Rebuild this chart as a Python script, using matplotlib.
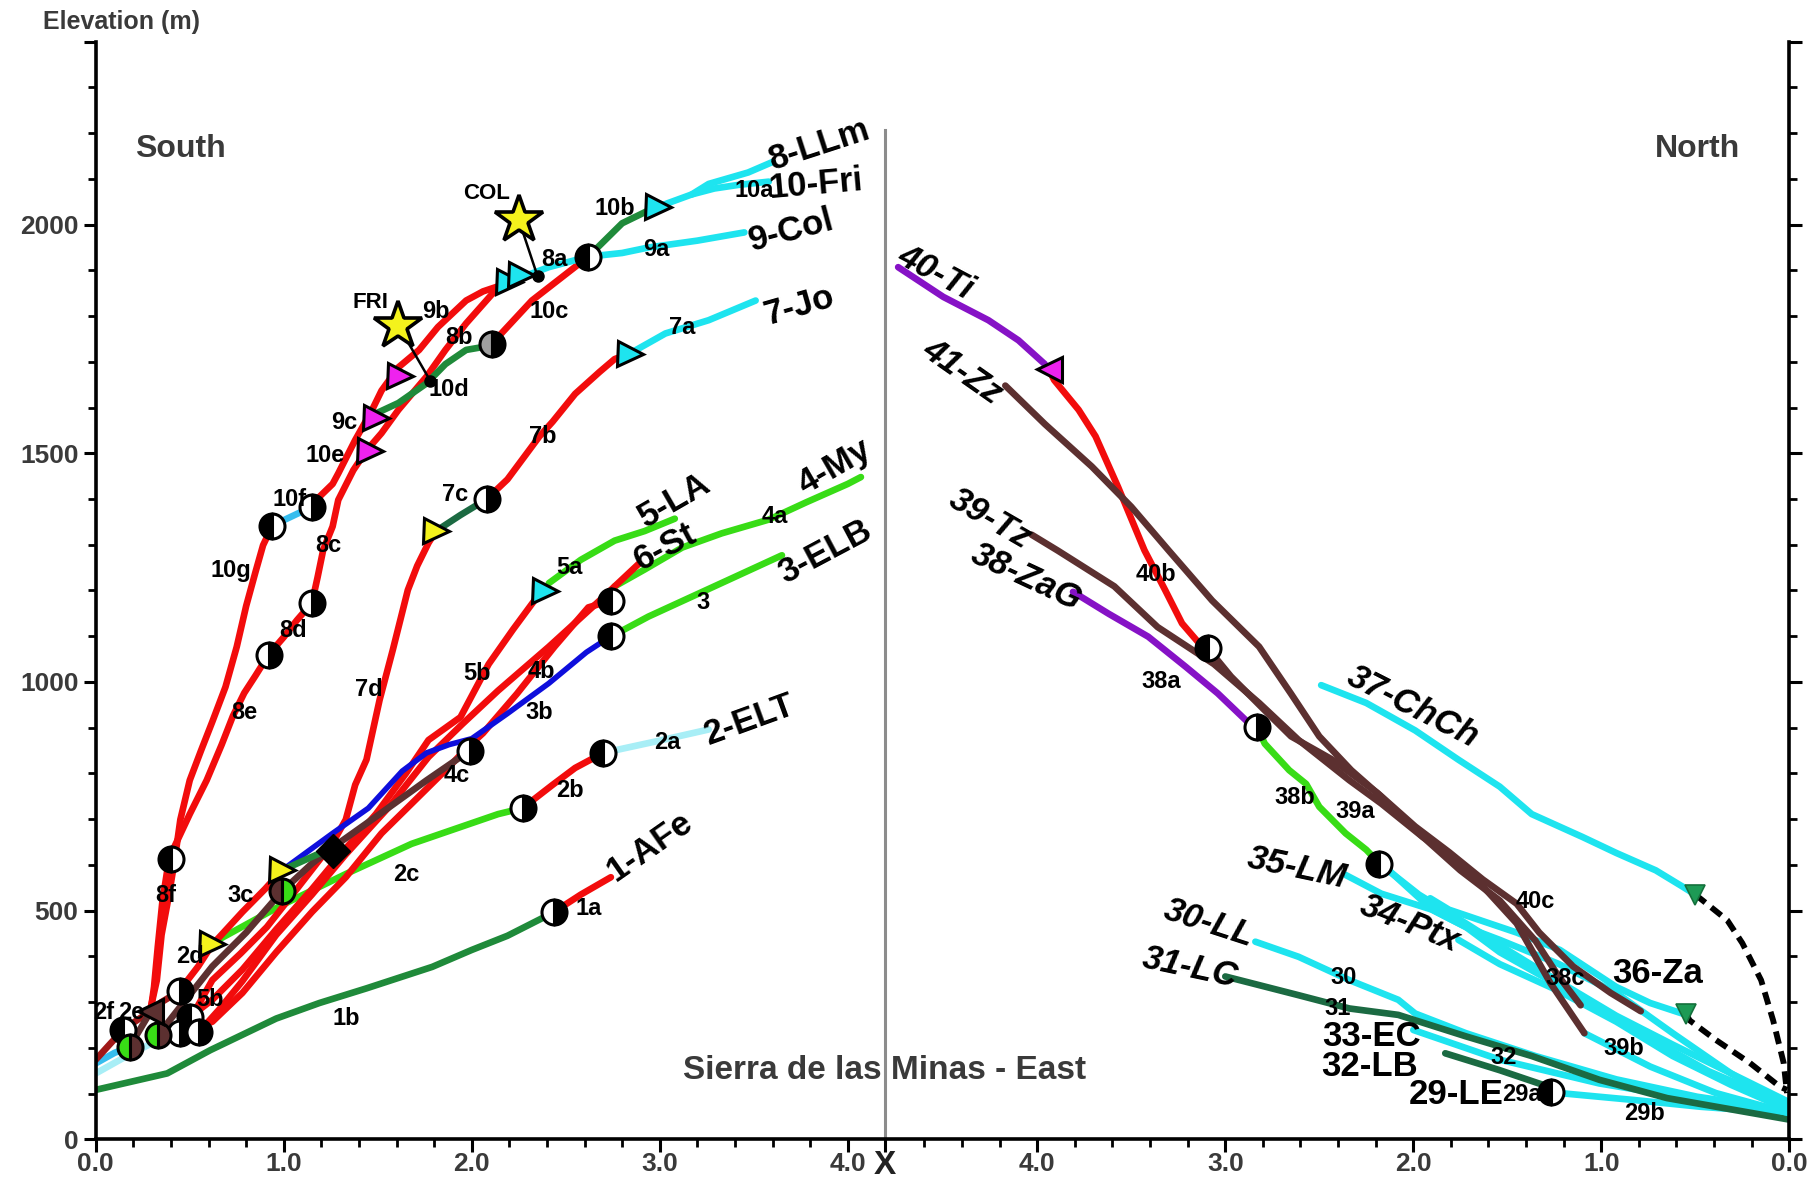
import matplotlib
matplotlib.use("Agg")
import matplotlib.pyplot as plt
from matplotlib.ticker import FixedLocator

# ---------------- composite distance axis ----------------
X_DIV = 4.196      # position of the "X" divide on the shared axis (km from south origin)
NORTH0 = 9.008     # position of the north origin on the shared axis

# ---------------- SOUTH profiles: (km from south origin, elevation m) ----------------
S_1b = [(0, 108), (0.38, 144), (0.61, 195), (0.96, 264), (1.19, 298), (1.44, 330), (1.79, 377), (2.0, 414), (2.19, 445), (2.43, 495)]
S_1a = [(2.43, 495), (2.58, 535), (2.74, 573)]
S_2a = [(2.70, 845), (2.98, 870), (3.26, 896)]
S_2b = [(2.27, 724), (2.43, 775), (2.55, 812), (2.70, 845)]
S_2c = [(0.62, 429), (0.98, 510), (1.33, 580), (1.68, 646), (2.14, 711), (2.27, 724)]
S_2d = [(0.99, 588), (0.90, 547), (0.78, 497), (0.655, 441), (0.62, 426), (0.545, 378), (0.47, 338), (0.45, 325)]
S_2e = [(0.45, 325), (0.35, 300), (0.29, 280)]
S_2f = [(0.29, 280), (0.147, 240), (0.073, 207), (0, 174)]
S_3 = [(2.74, 1099), (2.94, 1143), (3.29, 1209), (3.65, 1277)]
S_3b = [(0.99, 588), (1.26, 669), (1.45, 724), (1.63, 805), (1.76, 845), (1.88, 863), (2.00, 876), (2.19, 931), (2.41, 997), (2.61, 1065), (2.74, 1100)]
S_3c = [(0.99, 588), (1.26, 638)]
S_4a = [(2.74, 1178), (2.76, 1209), (2.92, 1246), (3.12, 1294), (3.33, 1325), (3.58, 1355), (3.78, 1393), (4.00, 1433), (4.07, 1448)]
S_4b = [(2.74, 1178), (2.62, 1163), (2.44, 1077), (2.24, 974), (2.06, 888), (1.98, 858), (1.88, 815), (1.70, 742), (1.52, 669), (1.33, 573), (1.15, 497), (0.96, 409), (0.78, 320), (0.62, 257), (0.45, 232)]
S_4c = [(1.99, 850), (1.76, 785), (1.51, 711), (1.26, 638), (1.15, 603), (0.99, 542), (0.80, 452), (0.62, 378), (0.45, 290), (0.33, 227)]
S_4d = [(0.29, 278), (0.18, 202)]
S_5a = [(2.41, 1216), (2.58, 1267), (2.76, 1309), (2.92, 1330), (3.08, 1357)]
S_5b = [(2.36, 1193), (2.22, 1115), (2.09, 1039), (1.94, 923), (1.77, 873), (1.65, 800), (1.49, 711), (1.33, 636), (1.15, 547), (0.96, 459), (0.78, 371), (0.62, 305), (0.50, 267)]
S_6 = [(2.89, 1259), (2.68, 1178), (2.41, 1077), (2.14, 981), (1.95, 908), (1.77, 836), (1.56, 727), (1.33, 623), (1.15, 535), (0.96, 447), (0.78, 346), (0.655, 283), (0.55, 235)]
S_7a = [(2.84, 1718), (3.03, 1762), (3.26, 1791), (3.51, 1834)]
S_7b = [(2.08, 1400), (2.19, 1443), (2.36, 1537), (2.43, 1569), (2.55, 1630), (2.68, 1678), (2.76, 1706), (2.84, 1718)]
S_7c = [(1.81, 1330), (1.94, 1365), (2.08, 1400)]
S_7d = [(1.81, 1330), (1.77, 1304), (1.71, 1254), (1.66, 1201), (1.58, 1070), (1.51, 961), (1.44, 830), (1.38, 775), (1.33, 699), (1.26, 648), (1.16, 595), (1.05, 537), (0.91, 464), (0.77, 406), (0.62, 348), (0.52, 275), (0.45, 232)]
S_8a = [(2.20, 1875), (2.41, 1907), (2.62, 1930)]
S_8top = [(2.99, 2039), (3.17, 2066), (3.26, 2089), (3.47, 2114), (3.60, 2137)]
S_8b = [(2.19, 1870), (2.11, 1849), (1.97, 1784), (1.86, 1726), (1.76, 1668), (1.61, 1595), (1.52, 1544), (1.44, 1506), (1.37, 1463), (1.29, 1398), (1.26, 1340), (1.21, 1289), (1.18, 1229), (1.15, 1173)]
S_8d = [(1.15, 1173), (1.07, 1135), (1.00, 1098), (0.92, 1060)]
S_8e = [(0.92, 1060), (0.85, 1014), (0.79, 976), (0.73, 926), (0.67, 863), (0.59, 785), (0.50, 711), (0.42, 641), (0.39, 613)]
S_8f = [(0.39, 613), (0.355, 522), (0.33, 421), (0.31, 333), (0.29, 275)]
S_9a = [(2.62, 1930), (2.80, 1938), (2.94, 1950), (3.20, 1965), (3.45, 1983)]
S_9b = [(2.19, 1872), (2.06, 1854), (1.97, 1834), (1.82, 1776), (1.72, 1726), (1.61, 1688), (1.52, 1637), (1.47, 1595), (1.38, 1529), (1.29, 1456), (1.26, 1433), (1.19, 1405), (1.15, 1383)]
S_10a = [(3.17, 2066), (3.29, 2079), (3.42, 2087), (3.58, 2094)]
S_10b = [(2.62, 1930), (2.80, 2003), (2.94, 2031), (2.99, 2039)]
S_10c = [(2.62, 1930), (2.32, 1834), (2.11, 1741)]
S_10d = [(2.11, 1736), (1.97, 1726), (1.86, 1695), (1.76, 1653), (1.61, 1610), (1.49, 1587)]
S_10f = [(1.15, 1383), (0.94, 1342)]
S_10g = [(0.94, 1342), (0.89, 1299), (0.85, 1241), (0.80, 1166), (0.75, 1077), (0.69, 989), (0.62, 913), (0.56, 850), (0.50, 785), (0.45, 699), (0.42, 611), (0.39, 535), (0.35, 447), (0.325, 348), (0.29, 283)]
S_base1 = [(0, 144), (0.165, 182), (0.37, 225)]
S_base2 = [(0, 166), (0.10, 189), (0.18, 202)]

# ---------------- NORTH profiles: (km from north origin, elevation m) ----------------
N_40Ti = [(4.74, 1907), (4.50, 1842), (4.26, 1791), (4.10, 1747), (3.96, 1695)]
N_40b = [(3.94, 1685), (3.91, 1660), (3.78, 1595), (3.69, 1537), (3.57, 1426), (3.43, 1288), (3.32, 1201), (3.23, 1128), (3.14, 1085), (3.09, 1075)]
N_40c = [(3.07, 1062), (2.97, 1012), (2.81, 946), (2.65, 881), (2.43, 830), (2.19, 757), (1.99, 684), (1.81, 628), (1.63, 568), (1.45, 515), (1.33, 452), (1.15, 378), (0.95, 320), (0.79, 280)]
N_41Zz = [(4.17, 1648), (3.96, 1564), (3.71, 1471), (3.50, 1383), (3.30, 1287), (3.07, 1178), (2.82, 1077), (2.65, 974), (2.50, 881), (2.33, 807), (2.17, 749), (1.97, 669), (1.75, 588), (1.54, 522), (1.35, 434), (1.23, 358), (1.11, 293)]
N_39Tz = [(4.03, 1322), (3.89, 1287), (3.59, 1209), (3.36, 1120), (3.06, 1039), (2.82, 954), (2.61, 873), (2.34, 785), (2.17, 734), (1.95, 661), (1.79, 618), (1.63, 553), (1.45, 472), (1.27, 341), (1.09, 232)]
N_39b = [(1.09, 232), (0.74, 159), (0.39, 101), (0, 57)]
N_38a = [(3.81, 1197), (3.62, 1149), (3.41, 1099), (3.21, 1033), (3.04, 975), (2.89, 916), (2.83, 902)]
N_38b = [(2.83, 901), (2.79, 865), (2.66, 807), (2.57, 777), (2.50, 727), (2.36, 669), (2.25, 633), (2.18, 603)]
N_38c = [(2.18, 603), (1.97, 535), (1.72, 472), (1.48, 409), (1.23, 346), (0.92, 270), (0.62, 207), (0.31, 144), (0, 81)]
N_34 = [(2.13, 588), (1.90, 502), (1.72, 464), (1.54, 409), (1.29, 351), (1.05, 295), (0.74, 220), (0.43, 149), (0, 73)]
N_34b = [(1.76, 436), (1.54, 383), (1.23, 325), (0.92, 257), (0.62, 182), (0.31, 119), (0, 63)]
N_35LM = [(2.36, 578), (2.17, 537), (1.90, 502), (1.72, 464), (1.54, 436), (1.23, 384), (0.92, 320), (0.62, 232), (0.31, 144), (0, 68)]
N_37 = [(2.49, 993), (2.25, 954), (1.99, 894), (1.76, 830), (1.54, 771), (1.37, 711), (1.10, 661), (0.92, 626), (0.71, 588), (0.57, 553), (0.50, 535)]
N_37dash = [(0.50, 535), (0.46, 522), (0.33, 479), (0.25, 429), (0.15, 348), (0.086, 260), (0.03, 167), (0.012, 101)]
N_36 = [(1.91, 527), (1.81, 502), (1.45, 452), (1.22, 414), (0.92, 333), (0.74, 298), (0.57, 275), (0.55, 275)]
N_36dash = [(0.55, 275), (0.53, 260), (0.39, 217), (0.21, 167), (0.05, 115), (0.012, 108)]
N_30LL = [(2.84, 432), (2.61, 399), (2.34, 348), (2.08, 305), (1.99, 275), (1.72, 232), (1.35, 182), (0.92, 131), (0.49, 93), (0, 63)]
N_31LC = [(3.00, 356), (2.61, 315), (2.34, 286), (2.08, 272), (1.72, 225), (1.37, 182), (1.01, 130), (0.65, 90), (0, 43)]
N_33EC = [(2.00, 239), (1.54, 174), (1.01, 122), (0.48, 86), (0, 64)]
N_32LB = [(1.83, 188), (1.54, 151), (1.31, 119), (1.27, 104)]
N_29b = [(1.27, 103), (1.22, 101), (0.83, 86), (0.47, 71), (0, 57)]

# ---------------- markers ----------------
S_HALF = [(2.44, 497), (2.27, 724), (2.70, 845), (2.74, 1100), (2.74, 1178), (1.99, 850), (2.08, 1400), (2.62, 1930),
          (1.15, 1173), (0.92, 1060), (0.40, 613), (0.94, 1342), (1.15, 1383), (0.45, 325), (0.147, 240), (0.50, 267),
          (0.45, 232), (0.55, 235)]
S_HALF_SIDE = ['R', 'R', 'L', 'L', 'L', 'R', 'R', 'L', 'R', 'R', 'L', 'L', 'R', 'R', 'L', 'L', 'R', 'R']
N_HALF = [(3.09, 1075), (2.83, 901), (2.18, 603), (1.27, 104)]
N_HALF_SIDE = ['L', 'R', 'L', 'L']
S_GRAYHALF = [(2.11, 1738)]
S_GREENBROWN = [(0.18, 202), (0.33, 227)]
S_BROWNGREEN = [(0.99, 542)]
S_DIAMOND = [(1.26, 631)]
S_TRI_CYAN = [(2.20, 1875), (2.26, 1890), (2.99, 2039), (2.84, 1718), (2.39, 1198)]
S_TRI_YELLOW = [(1.81, 1330), (0.99, 588), (0.62, 426)]
S_TRI_MAGENTA = [(1.62, 1668), (1.49, 1577), (1.46, 1506)]
S_TRI_BROWN = [(0.29, 280)]
N_TRI_MAGENTA = [(3.94, 1685)]
N_TRI_GREEN = [(0.50, 535), (0.55, 275)]
STARS = [(2.25, 2011), (1.61, 1779)]
STAR_NAMES = ["COL", "FRI"]
STAR_NAME_POS = [(2.08, 2069), (1.46, 1829)]
STAR_DOTS = [(2.35, 1887), (1.78, 1658)]

# ---------------- labels ----------------
S_BIG = [("8-LLm", 3.85, 2175, 18), ("10-Fri", 3.83, 2087, 5), ("9-Col", 3.70, 1987, 15), ("7-Jo", 3.74, 1822, 16),
         ("4-My", 3.93, 1470, 30), ("5-LA", 3.08, 1397, 30), ("6-St", 3.03, 1295, 28), ("3-ELB", 3.88, 1284, 28),
         ("2-ELT", 3.48, 916, 20), ("1-AFe", 2.95, 641, 35)]
S_SMALL = [("1a", 2.62, 505), ("1b", 1.33, 265), ("2a", 3.04, 868), ("2b", 2.52, 762), ("2c", 1.65, 578),
           ("2d", 0.50, 399), ("2e", 0.19, 278), ("2f", 0.04, 278), ("3", 3.23, 1173), ("3b", 2.36, 933),
           ("3c", 0.77, 532), ("4a", 3.61, 1362), ("4b", 2.37, 1022), ("4c", 1.92, 795), ("5a", 2.52, 1251),
           ("5b", 2.03, 1019), ("5b", 0.61, 305), ("7a", 3.12, 1776), ("7b", 2.38, 1536), ("7c", 1.91, 1410),
           ("7d", 1.45, 984), ("8a", 2.44, 1923), ("8b", 1.93, 1753), ("8c", 1.24, 1299), ("8d", 1.05, 1113),
           ("8e", 0.79, 933), ("8f", 0.37, 532), ("9a", 2.98, 1945), ("9b", 1.81, 1809), ("9c", 1.32, 1567),
           ("10a", 3.50, 2074), ("10b", 2.76, 2036), ("10c", 2.41, 1809), ("10d", 1.88, 1640), ("10e", 1.22, 1496),
           ("10f", 1.03, 1400), ("10g", 0.72, 1244)]
N_BIG = [("40-Ti", 4.54, 1895, -28, True), ("41-Zz", 4.40, 1678, -35, True), ("39-Tz", 4.25, 1357, -30, True),
         ("38-ZaG", 4.06, 1229, -25, True), ("37-ChCh", 2.00, 946, -27, True), ("35-LM", 2.62, 593, -12, True),
         ("34-Ptx", 2.02, 472, -22, True), ("30-LL", 3.09, 472, -18, True), ("31-LC", 3.19, 376, -12, True),
         ("33-EC", 2.22, 225, 0, False), ("32-LB", 2.23, 159, 0, False), ("29-LE", 1.77, 98, 0, False),
         ("36-Za", 0.70, 363, 0, False)]
N_SMALL = [("40b", 3.37, 1236), ("38a", 3.34, 1002), ("38b", 2.63, 747), ("39a", 2.31, 717), ("40c", 1.35, 520),
           ("38c", 1.19, 351), ("39b", 0.88, 199), ("30", 2.37, 353), ("31", 2.40, 285), ("32", 1.52, 179),
           ("29a", 1.42, 98), ("29b", 0.77, 56)]

X_MAJOR_LABELS = ["0.0", "1.0", "2.0", "3.0", "4.0", "", "4.0", "3.0", "2.0", "1.0", "0.0"]
X_DIV_LABEL = "X"
Y_MAJOR = [0, 500, 1000, 1500, 2000]

# ---------------- colours ----------------
RED = '#f20c0c'
CYAN = '#1ee4ef'
LCYAN = '#a8eef6'
SKY = '#36bdee'
GREEN = '#38dc16'
DGREEN = '#1f8a3a'
DDGREEN = '#1b6a42'
BROWN = '#5c3030'
BLUE = '#0e0edc'
PURPLE = '#8612c6'
DRED = '#a01818'
MAGENTA = '#ee22ee'
YELLOW = '#f4f21c'
TGREEN = '#1d9a55'
TXT = '#3a3a3a'

NARROW = ['Liberation Sans Narrow', 'Liberation Sans', 'DejaVu Sans']
SANS = ['Liberation Sans', 'DejaVu Sans']

fig = plt.figure(figsize=(18.10, 11.79), dpi=100)
ax = fig.add_axes([0.0529, 0.0337, 0.98856 - 0.0529, 0.96463 - 0.0337])
ax.set_xlim(0, NORTH0)
ax.set_ylim(0, 2400)


def sxy(pts):
    return [p[0] for p in pts], [p[1] for p in pts]


def nxy(pts):
    return [NORTH0 - p[0] for p in pts], [p[1] for p in pts]


LW = 4.8
south_lines = [
    (S_base1, LCYAN, LW), (S_base2, SKY, LW), (S_1b, DGREEN, LW), (S_1a, RED, LW),
    (S_2a, LCYAN, LW), (S_2b, RED, LW), (S_2c, GREEN, LW), (S_2d, RED, LW), (S_2e, DRED, LW), (S_2f, DRED, LW),
    (S_3, GREEN, LW), (S_4a, GREEN, LW), (S_5a, GREEN, LW),
    (S_7d, RED, LW), (S_6, RED, LW), (S_4b, RED, LW), (S_5b, RED, LW),
    (S_4c, BROWN, LW), (S_4d, BROWN, LW), (S_3b, BLUE, 4.0), (S_3c, DGREEN, LW),
    (S_7a, CYAN, LW), (S_7b, RED, LW), (S_7c, DDGREEN, LW),
    (S_10g, RED, LW), (S_8e, RED, LW), (S_8f, RED, LW), (S_8d, RED, LW), (S_10f, SKY, LW),
    (S_8b, RED, LW), (S_9b, RED, LW), (S_10d, DGREEN, LW), (S_10c, RED, LW),
    (S_9a, CYAN, LW), (S_8a, CYAN, LW), (S_10a, CYAN, LW), (S_8top, CYAN, LW), (S_10b, DGREEN, LW),
]
for pts, col, lw in south_lines:
    x, y = sxy(pts)
    ax.plot(x, y, color=col, lw=lw, solid_capstyle='round', solid_joinstyle='round', zorder=2)

north_lines = [
    (N_30LL, CYAN, LW), (N_33EC, CYAN, LW), (N_29b, CYAN, LW), (N_31LC, DDGREEN, LW), (N_32LB, DDGREEN, LW),
    (N_35LM, CYAN, LW), (N_34, CYAN, LW), (N_34b, CYAN, LW), (N_38c, CYAN, LW), (N_39b, CYAN, LW),
    (N_36, CYAN, LW), (N_37, CYAN, LW),
    (N_38a, PURPLE, LW), (N_38b, GREEN, LW),
    (N_40b, RED, LW), (N_41Zz, BROWN, LW), (N_39Tz, BROWN, LW), (N_40c, BROWN, LW),
    (N_40Ti, PURPLE, LW),
]
for pts, col, lw in north_lines:
    x, y = nxy(pts)
    ax.plot(x, y, color=col, lw=lw, solid_capstyle='round', solid_joinstyle='round', zorder=2)

for pts in (N_37dash, N_36dash):
    x, y = nxy(pts)
    ax.plot(x, y, color='black', lw=4.2, ls=(0, (2.2, 1.3)), zorder=2)

# central divide
ax.plot([X_DIV, X_DIV], [0, 2206], color='#8c8c8c', lw=2.2, zorder=1)

# star connectors
for (sx, sy), (dx, dy) in zip(STARS, STAR_DOTS):
    ax.plot([dx, sx], [dy, sy], color='black', lw=1.8, zorder=3)
    ax.plot(dx, dy, 'o', ms=8, color='black', zorder=4)

MS = 18


def half(x, y, side, c1='black', c2='white'):
    ax.plot(x, y, marker='o', ms=MS, fillstyle='left' if side == 'L' else 'right',
            mfc=c1, mfcalt=c2, mec='black', mew=2.2, zorder=5)


for (x, y), s in zip(S_HALF, S_HALF_SIDE):
    half(x, y, s)
for (x, y), s in zip(N_HALF, N_HALF_SIDE):
    half(NORTH0 - x, y, s)
for x, y in S_GRAYHALF:
    half(x, y, 'L', '#a0a0a0', 'black')
for x, y in S_GREENBROWN:
    half(x, y, 'L', GREEN, BROWN)
for x, y in S_BROWNGREEN:
    half(x, y, 'L', BROWN, GREEN)
for x, y in S_DIAMOND:
    ax.plot(x, y, marker='D', ms=17, mfc='black', mec='black', zorder=5)


def tri(pts, col, mk, north=False):
    for x, y in pts:
        xx = NORTH0 - x if north else x
        ax.plot(xx, y, marker=mk, ms=MS, mfc=col, mec='black', mew=2.2, zorder=5)


tri(S_TRI_CYAN, CYAN, '>')
tri(S_TRI_YELLOW, YELLOW, '>')
tri(S_TRI_MAGENTA, MAGENTA, '>')
tri(S_TRI_BROWN, BROWN, '<')
tri(N_TRI_MAGENTA, MAGENTA, '<', north=True)
for x, y in N_TRI_GREEN:
    ax.plot(NORTH0 - x, y, marker='v', ms=15, mfc=TGREEN, mec='#14703c', mew=1.2, zorder=5)

for (x, y), name, (tx, ty) in zip(STARS, STAR_NAMES, STAR_NAME_POS):
    ax.plot(x, y, marker='*', ms=36, mfc=YELLOW, mec='black', mew=2.6, zorder=6)
    ax.text(tx, ty, name, fontsize=16, fontweight='bold', family=NARROW, ha='center', va='center', zorder=7)

# labels
for t, x, y, r in S_BIG:
    ax.text(x, y, t, fontsize=25, fontweight='bold', family=NARROW, rotation=r, rotation_mode='anchor',
            ha='center', va='center', zorder=7)
for t, x, y in S_SMALL:
    ax.text(x, y, t, fontsize=17, fontweight='bold', family=NARROW, ha='center', va='center', zorder=7)
for t, d, y, r, it in N_BIG:
    ax.text(NORTH0 - d, y, t, fontsize=25, fontweight='bold', family=NARROW, rotation=r, rotation_mode='anchor',
            style='italic' if it else 'normal', ha='center', va='center', zorder=7)
for t, d, y in N_SMALL:
    ax.text(NORTH0 - d, y, t, fontsize=17, fontweight='bold', family=NARROW, ha='center', va='center', zorder=7)

ax.text(0.45, 2165, "South", fontsize=23, fontweight='bold', family=SANS, color=TXT, ha='center', va='center')
ax.text(NORTH0 - 0.49, 2165, "North", fontsize=23, fontweight='bold', family=SANS, color=TXT, ha='center', va='center')
ax.text(X_DIV, 151, "Sierra de las Minas - East", fontsize=24, fontweight='bold', family=SANS, color=TXT,
        ha='center', va='center', zorder=1)
fig.text(121 / 1810, 1 - 22 / 1179, "Elevation (m)", fontsize=18, fontweight='bold', family=SANS, color=TXT,
         ha='center', va='center')

# spines / ticks
ax.spines['top'].set_visible(False)
for s in ('left', 'right', 'bottom'):
    ax.spines[s].set_linewidth(2.6)
    ax.spines[s].set_color('black')

x_major = [0, 1, 2, 3, 4, X_DIV] + [NORTH0 - d for d in (4, 3, 2, 1, 0)]
x_minor = [0.2 * k for k in range(1, 21) if k % 5] + [NORTH0 - 0.2 * k for k in range(1, 24) if k % 5]
ax.xaxis.set_major_locator(FixedLocator(x_major))
ax.xaxis.set_minor_locator(FixedLocator(x_minor))
ax.set_xticklabels(X_MAJOR_LABELS)
ax.yaxis.set_major_locator(FixedLocator(Y_MAJOR + [2400]))
ax.yaxis.set_minor_locator(FixedLocator([v for v in range(100, 2400, 100) if v % 500]))
ax.set_yticklabels([str(v) for v in Y_MAJOR] + [""])
ax.tick_params(axis='both', which='major', length=9, width=2.2, direction='out', color='black')
ax.tick_params(axis='both', which='minor', length=6, width=2.0, direction='out', color='black')
ax.tick_params(axis='y', which='both', right=True, labelright=False)
ax.tick_params(axis='x', which='major', pad=0)
for lab in ax.get_xticklabels():
    lab.set_family(NARROW)
    lab.set_fontsize(19)
    lab.set_fontweight('bold')
    lab.set_color(TXT)
for lab in ax.get_yticklabels():
    lab.set_family(SANS)
    lab.set_fontsize(19)
    lab.set_fontweight('bold')
    lab.set_color(TXT)

# the "X" divide label under the axis
ax.annotate(X_DIV_LABEL, xy=(X_DIV, 0), xycoords='data', xytext=(0, -19), textcoords='offset points',
            ha='center', va='center', fontsize=24, fontweight='bold', family=SANS, color='#222222',
            annotation_clip=False)

fig.savefig("out.png", dpi=100)
